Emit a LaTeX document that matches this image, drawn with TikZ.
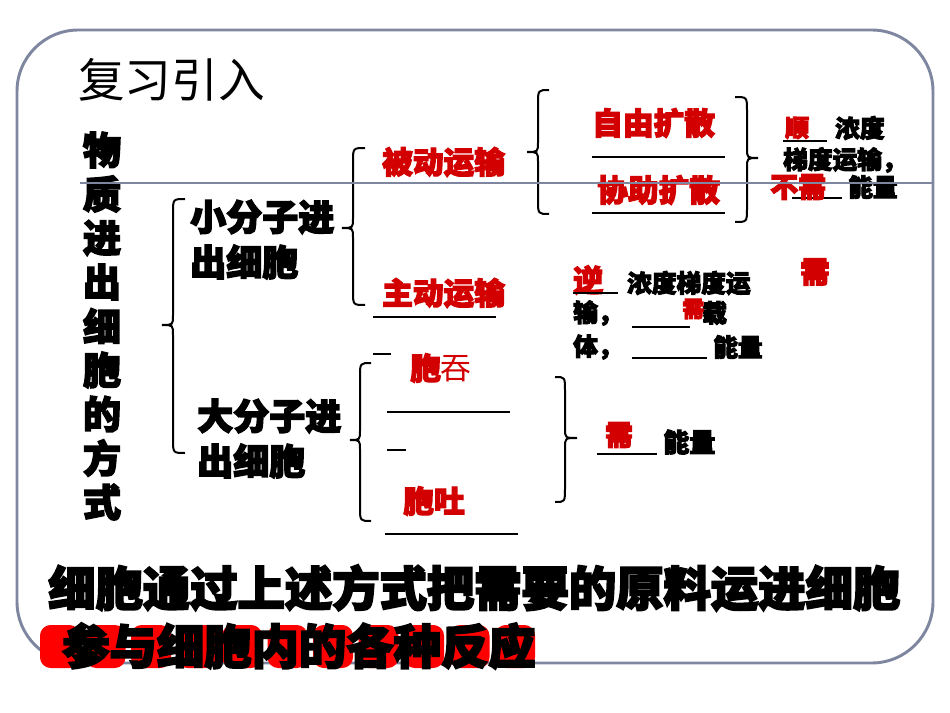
\documentclass[tikz,border=0pt]{standalone}
\usepackage{fontspec}
\newfontfamily\cjk{Noto Sans CJK SC}
\newfontfamily\cjkH{Noto Sans CJK SC}[BoldFeatures={FakeBold=4}]
\definecolor{framecol}{RGB}{127,134,160}
\definecolor{ansred}{RGB}{210,0,0}
\tikzset{
  hv/.style={inner sep=0pt, anchor=west, font=\cjkH\bfseries\fontsize{#1}{#1}\selectfont},
  hv/.default=18.5,
  ans/.style={hv=#1, text=ansred},
  ans/.default=18.5,
  framestroke/.style={draw=framecol, line width=2.2pt},
  brc/.style={draw=black, line width=1.5pt},
  blank/.style={draw=black, line width=1pt},
  diffline/.style={draw=black, line width=1.6pt},
  blob/.style={fill=red, rounded corners=8pt}
}
% brace: x of vertical line, y top, y tip, y bottom, x tip, x hook
\newcommand{\mybrace}[6]{%
  \draw[brc] (#6,#2) .. controls (#1,#2) .. (#1,#2+14) -- (#1,#3-10)
    .. controls (#1,#3) .. (#5,#3) .. controls (#1,#3) .. (#1,#3+10)
    -- (#1,#4-14) .. controls (#1,#4) .. (#6,#4);}
\begin{document}
\begin{tikzpicture}[x=0.75pt,y=-0.75pt]
\useasboundingbox (0,0) rectangle (950,713);
\fill[white] (0,0) rectangle (950,713);
% frame
\draw[framestroke, rounded corners=46pt] (17,30) rectangle (933,663);

% title
\node[font=\cjk\fontsize{35}{35}\selectfont, anchor=west, inner sep=0pt] (title) at (78,80) {复习引入};

% vertical text
\foreach \c [count=\i] in {物,质,进,出,细,胞,的,方,式}
  \node[hv=28.5, anchor=center] (v\i) at (102,{150+44*(\i-1)}) {\c};

% braces
\mybrace{173}{199}{325}{453}{162}{185}
\mybrace{353}{148}{228}{305}{342}{365}
\mybrace{538}{90}{152}{214}{527}{549}
\mybrace{747}{97}{158}{222}{758}{735}
\mybrace{360}{363}{440}{521}{350}{371}
\mybrace{565}{377}{438}{502}{577}{555}

% small / large molecules
\node[hv=27] (s1) at (190,217) {小分子进};
\node[hv=27] (s2) at (190,262) {出细胞};
\node[hv=27] (l1) at (197,416) {大分子进};
\node[hv=27] (l2) at (197,461) {出细胞};

% passive / active
\node[ans=23] (passive) at (382,162) {被动运输};
\node[ans=23] (active) at (382,293) {主动运输};
\draw[blank] (373,317) -- (496,317);

% diffusion
\node[ans=23] (free) at (592,123) {自由扩散};
\draw[diffline] (592,157) -- (725,157);
\node[ans=23] (facil) at (597,190) {协助扩散};
\draw[diffline] (592,213) -- (725,213);

% shun section
\node[ans=18] (shun) at (785,128) {顺};
\draw[blank] (783,141) -- (827,141);
\node[hv] (nd1) at (835,128) {浓度};
\node[hv] (td1) at (783,160) {梯度运输，};
\draw[blank] (792,198) -- (842,198);
\node[ans=21] (buxu) at (770,187) {不需};
\node[hv] (nl1) at (848,187) {能量};

% lone red
\node[ans=22, anchor=center] (xu0) at (815,272) {需};

% ni section
\node[ans=22.5] (ni) at (573,280) {逆};
\draw[blank] (573,293) -- (618,293);
\node[hv] (nd2) at (627,283) {浓度梯度运};
\node[hv] (sh2) at (573,313) {输，};
\draw[blank] (632,327) -- (690,327);
\node[hv] (zai) at (702,313) {载};
\node[ans=16.5] (xu2) at (682,309) {需};
\node[hv] (ti) at (573,347) {体，};
\draw[blank] (632,358) -- (707,358);
\node[hv] (nl2) at (713,347) {能量};

% endocytosis / exocytosis
\draw[blank] (373,354) -- (391,354);
\node[inner sep=0pt, anchor=west, text=ansred] (tun) at (410,368)
  {{\cjkH\bfseries\fontsize{23}{23}\selectfont 胞}{\cjk\fontsize{23}{23}\selectfont 吞}};
\draw[blank] (387,412) -- (510,412);
\draw[blank] (387,450) -- (406,450);
\node[ans=23] (tu) at (403,501) {胞吐};
\draw[blank] (385,534) -- (518,534);

\node[ans=21, anchor=center] (xu3) at (619,435) {需};
\draw[blank] (597,454) -- (657,454);
\node[hv=19.5] (nl3) at (663,442) {能量};

% bottom text
\node[hv=35.5] (bot1) at (48,588) {细胞通过上述方式把需要的原料运进细胞};
\foreach \i in {0,...,10}
  \fill[blob] ({40+45.5*\i},625) rectangle ({80+45.5*\i},668);
\node[hv=35.5] (bot2) at (62,646) {参与细胞内的各种反应};

% horizontal rule
\draw[framestroke] (80,183) -- (933,183);
\end{tikzpicture}
\end{document}
